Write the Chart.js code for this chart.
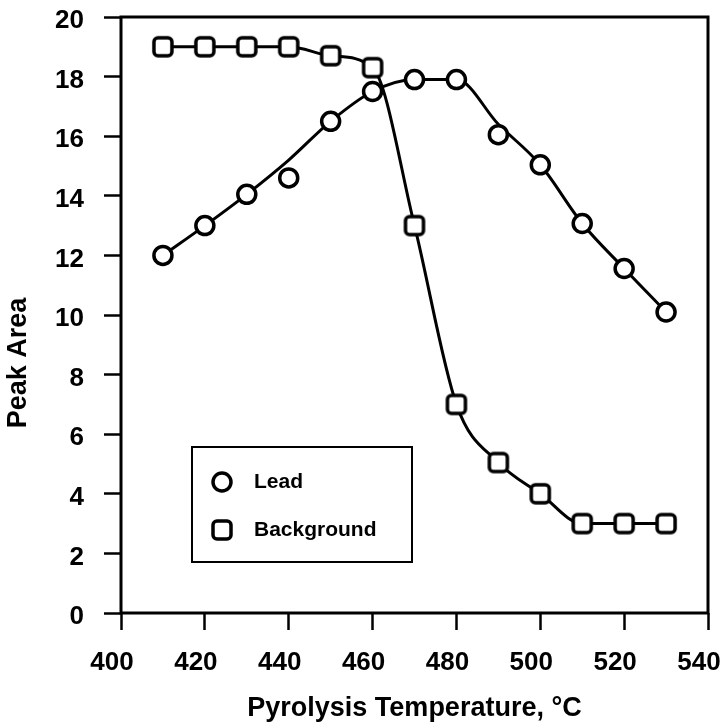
<!DOCTYPE html>
<html lang="en">

<head>
    <meta charset="UTF-8">
    <title>Peak Area vs Pyrolysis Temperature</title>
    <style>
        body {
            margin: 0;
            background: #fff;
        }
    </style>
</head>

<body>
    <canvas id="myChart" width="721" height="725"></canvas>

    <script src="https://cdn.jsdelivr.net/npm/chart.js"></script>

    <script>
        // temperatures (x) and peak areas
        var temps = [410, 420, 430, 440, 450, 460, 470, 480, 490, 500, 510, 520, 530];
        var leadArea = [12, 13, 14.05, 14.6, 16.5, 17.5, 17.9, 17.9, 16.05, 15.04, 13.07, 11.56, 10.1];
        var backgroundArea = [19, 19, 19, 19, 18.7, 18.3, 13, 7, 5.05, 4, 3, 3, 3];
        // the drawn curves (smoothed fits, not always through every marker)
        var leadCurve = [12, 13, 14.05, 15.2, 16.5, 17.5, 17.9, 17.9, 16.4, 15.04, 13.07, 11.56, 10.1];
        var backgroundCurve = [19, 19, 19, 19, 18.7, 18.3, 13, 7, 5.05, 4, 3, 3, 3];
        var xTicks = [400, 420, 440, 460, 480, 500, 520, 540];
        var yTicks = [0, 2, 4, 6, 8, 10, 12, 14, 16, 18, 20];
        var seriesNames = ['Lead', 'Background'];

        var FONT = '"Liberation Sans", Arial, Helvetica, sans-serif';

        function toPoints(ys) {
            return temps.map(function (t, i) { return { x: t, y: ys[i] }; });
        }

        // square marker with slightly rounded corners
        function makeSquare() {
            var c = document.createElement('canvas');
            c.width = 26;
            c.height = 26;
            var g = c.getContext('2d');
            var x = 4, y = 4, w = 18, h = 18, r = 4;
            g.beginPath();
            g.moveTo(x + r, y);
            g.arcTo(x + w, y, x + w, y + h, r);
            g.arcTo(x + w, y + h, x, y + h, r);
            g.arcTo(x, y + h, x, y, r);
            g.arcTo(x, y, x + w, y, r);
            g.closePath();
            g.fillStyle = '#fff';
            g.fill();
            g.lineWidth = 3.5;
            g.strokeStyle = '#000';
            g.stroke();
            return c;
        }
        var squareImg = makeSquare();

        // frame, legend box and y title
        var extras = {
            id: 'extras',
            beforeDatasetsDraw: function (chart) {
                var a = chart.chartArea;
                var c = chart.ctx;
                c.save();
                c.strokeStyle = '#000';
                c.lineWidth = 3;
                c.strokeRect(a.left, a.top, a.right - a.left, a.bottom - a.top);
                c.restore();
            },
            afterDraw: function (chart) {
                var c = chart.ctx;
                c.save();
                // legend
                c.fillStyle = '#fff';
                c.fillRect(192, 447, 220, 115);
                c.strokeStyle = '#000';
                c.lineWidth = 2;
                c.strokeRect(192, 447, 220, 115);

                c.beginPath();
                c.arc(222, 482, 9, 0, Math.PI * 2);
                c.fillStyle = '#fff';
                c.fill();
                c.lineWidth = 3.5;
                c.stroke();
                c.drawImage(squareImg, 222 - 13, 530 - 13);

                c.fillStyle = '#000';
                c.font = 'bold 21px ' + FONT;
                c.textAlign = 'left';
                c.textBaseline = 'middle';
                c.fillText(seriesNames[0], 254, 482);
                c.fillText(seriesNames[1], 254, 530);

                // y axis title
                c.translate(19, 363);
                c.rotate(-Math.PI / 2);
                c.font = 'bold 27px ' + FONT;
                c.textAlign = 'center';
                c.fillText('Peak Area', 0, 0);
                c.restore();
            }
        };

        new Chart(document.getElementById('myChart'), {
            type: 'line',
            data: {
                datasets: [{
                    label: seriesNames[0],
                    data: toPoints(leadArea),
                    showLine: false,
                    pointStyle: 'circle',
                    pointRadius: 9,
                    pointBorderWidth: 3.5,
                    pointBorderColor: '#000',
                    pointBackgroundColor: '#fff'
                }, {
                    label: seriesNames[1],
                    data: toPoints(backgroundArea),
                    showLine: false,
                    pointStyle: squareImg,
                    pointRadius: 11
                }, {
                    label: 'lead curve',
                    data: toPoints(leadCurve),
                    borderColor: '#000',
                    borderWidth: 3,
                    pointRadius: 0,
                    cubicInterpolationMode: 'monotone'
                }, {
                    label: 'background curve',
                    data: toPoints(backgroundCurve),
                    borderColor: '#000',
                    borderWidth: 3,
                    pointRadius: 0,
                    cubicInterpolationMode: 'monotone'
                }]
            },
            options: {
                responsive: false,
                animation: false,
                layout: {
                    padding: { left: 0, right: 13, top: 17, bottom: 0 }
                },
                plugins: {
                    legend: { display: false },
                    tooltip: { enabled: false }
                },
                scales: {
                    x: {
                        type: 'linear',
                        min: 400,
                        max: 540,
                        afterBuildTicks: function (scale) {
                            scale.ticks = xTicks.map(function (v) { return { value: v }; });
                        },
                        afterFit: function (scale) {
                            scale.height = 112;
                            scale.paddingLeft = 0;
                            scale.paddingRight = 0;
                        },
                        border: { display: false },
                        grid: {
                            drawOnChartArea: false,
                            tickLength: 17,
                            tickWidth: 2.5,
                            tickColor: '#000'
                        },
                        ticks: {
                            color: '#000',
                            padding: 17,
                            labelOffset: -9,
                            maxRotation: 0,
                            font: { family: FONT, size: 26, weight: 'bold' }
                        },
                        title: {
                            display: true,
                            text: 'Pyrolysis Temperature, °C',
                            color: '#000',
                            padding: { top: 0, bottom: 0 },
                            font: { family: FONT, size: 27, weight: 'bold' }
                        }
                    },
                    y: {
                        min: 0,
                        max: 20,
                        afterBuildTicks: function (scale) {
                            scale.ticks = yTicks.map(function (v) { return { value: v }; });
                        },
                        afterFit: function (scale) {
                            scale.width = 121;
                            scale.paddingTop = 0;
                            scale.paddingBottom = 0;
                        },
                        border: { display: false },
                        grid: {
                            drawOnChartArea: false,
                            tickLength: 17,
                            tickWidth: 2.5,
                            tickColor: '#000'
                        },
                        ticks: {
                            color: '#000',
                            padding: 20,
                            labelOffset: 4,
                            font: { family: FONT, size: 26, weight: 'bold' }
                        }
                    }
                }
            },
            plugins: [extras]
        });
    </script>

</body>

</html>
